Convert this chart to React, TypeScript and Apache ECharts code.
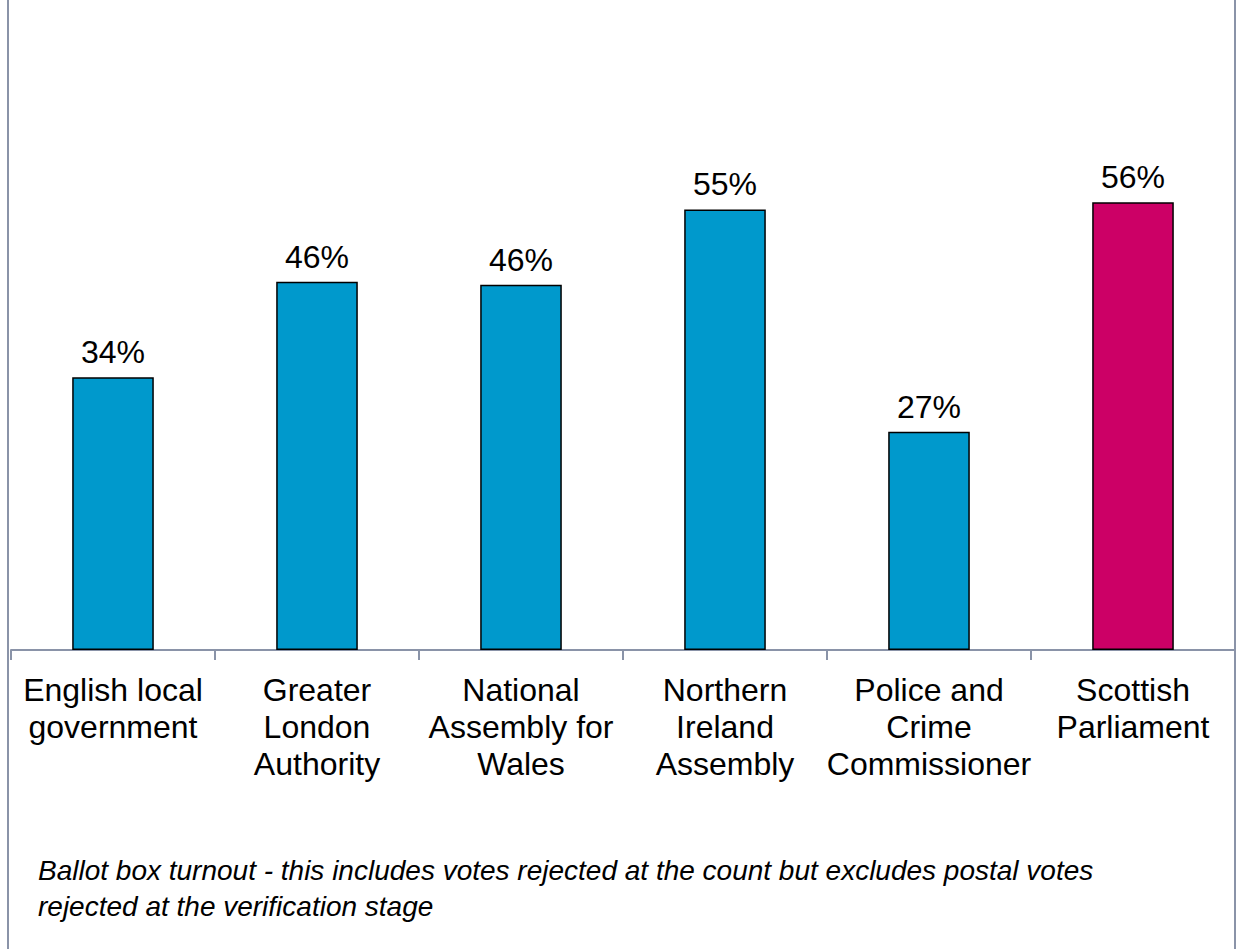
import React, { useEffect, useRef } from "react";
import * as echarts from "echarts";

const categories = [
  "English local\ngovernment",
  "Greater\nLondon\nAuthority",
  "National\nAssembly for\nWales",
  "Northern\nIreland\nAssembly",
  "Police and\nCrime\nCommissioner",
  "Scottish\nParliament",
];
const turnout = [34.0, 45.9, 45.5, 54.9, 27.2, 55.8];
const barColors = ["#0099CC", "#0099CC", "#0099CC", "#0099CC", "#0099CC", "#CC0066"];
const footnoteLines = [
  "Ballot box turnout - this includes votes rejected at the count but excludes postal votes",
  "rejected at the verification stage",
];

const FONT = "'Liberation Sans', Arial, Helvetica, sans-serif";

export default function App() {
  const ref = useRef<HTMLDivElement>(null);
  useEffect(() => {
    if (!ref.current) return;
    const chart = echarts.init(ref.current, null, { renderer: "svg" });
    chart.setOption({
      animation: false,
      backgroundColor: "#ffffff",
      grid: { left: 11, right: 2, top: 8, bottom: 299, containLabel: false },
      xAxis: {
        type: "category",
        data: categories,
        axisLine: { lineStyle: { color: "#8A93A8", width: 2 } },
        axisTick: { show: true, length: 10, lineStyle: { color: "#8A93A8", width: 2 } },
        axisLabel: {
          color: "#000000",
          fontFamily: FONT,
          fontSize: 32,
          lineHeight: 37,
          margin: 21,
          interval: 0,
        },
      },
      yAxis: {
        type: "value",
        min: 0,
        max: 80,
        show: false,
        splitLine: { show: false },
      },
      series: [
        {
          type: "bar",
          data: turnout.map((v, i) => ({ value: v, itemStyle: { color: barColors[i] } })),
          barWidth: "40%",
          itemStyle: { borderColor: "#000000", borderWidth: 1.5 },
          label: {
            show: true,
            position: "top",
            distance: 9,
            color: "#000000",
            fontFamily: FONT,
            fontSize: 32,
            formatter: (p: any) => Math.round(p.value) + "%",
          },
        },
      ],
      graphic: [
        {
          type: "rect",
          shape: { x: 8, y: -5, width: 1227, height: 960 },
          style: { fill: "none", stroke: "#8A93A8", lineWidth: 2 },
          silent: true,
        },
        {
          type: "text",
          x: 38,
          y: 852,
          style: {
            text: footnoteLines.join("\n"),
            font: `italic 28px ${FONT}`,
            fill: "#000000",
            lineHeight: 36,
          },
        },
      ],
    });
    return () => chart.dispose();
  }, []);
  return (
    <div
      ref={ref}
      style={{ position: "fixed", left: 0, top: 0, width: 1237, height: 949 }}
    />
  );
}
